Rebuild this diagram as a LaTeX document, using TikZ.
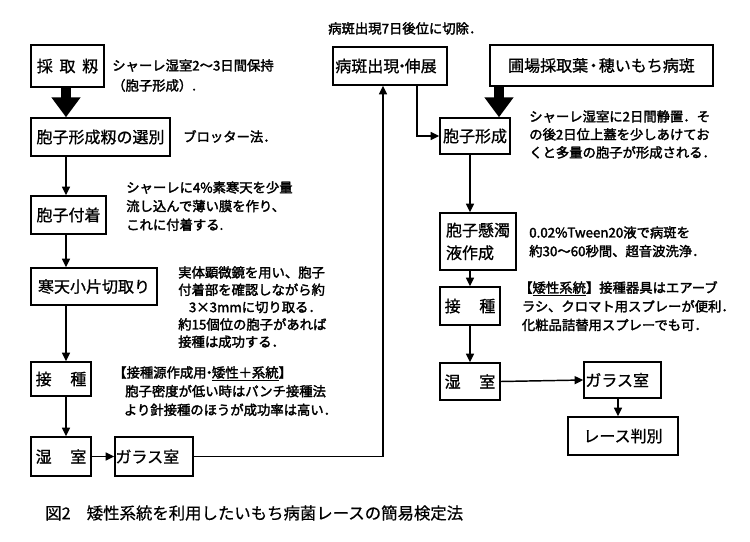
\documentclass[tikz,border=0pt]{standalone}
\usepackage{fontspec}
\usetikzlibrary{arrows.meta}
\newfontfamily\jp[FakeBold=0.9]{Noto Sans CJK JP}
\newfontfamily\jpb[FakeBold=2.2]{Noto Sans CJK JP}
\newfontfamily\jpc[FakeBold=0.5]{Noto Sans CJK JP}
\begin{document}
\begin{tikzpicture}[x=0.75pt,y=-0.75pt,
  bx/.style={draw, line width=1.1pt, inner sep=0pt, align=left,
    font=\jp\fontsize{12pt}{17pt}\selectfont},
  sz/.style 2 args={minimum width=#1*0.75pt, minimum height=#2*0.75pt},
  note/.style={inner sep=0pt, anchor=north west, align=left,
    font=\jpb\fontsize{10pt}{13pt}\selectfont},
  con/.style={line width=1.1pt},
  arr/.style={line width=1.1pt, -{Triangle[length=6.5pt,width=6pt]}},
  bigarrow/.style={line width=7.5pt, -{Triangle[length=15pt,width=21pt]}}]
\useasboundingbox (0,0) rectangle (750,542);
\fill[white] (0,0) rectangle (750,542);
% left column
\node[bx, sz={73}{42}] (A) at (67.5,66) {採\hspace{5pt}取\hspace{5pt}籾};
\node[bx, sz={139}{38}] (B) at (100.5,137) {胞子形成籾の選別};
\node[bx, sz={75}{38}] (C) at (68.5,215) {胞子付着};
\node[bx, sz={126}{37}] (D) at (94,286.5) {寒天小片切取り};
\node[bx, sz={60}{34}] (E) at (61,379) {接\hspace{14pt}種};
\node[bx, sz={60}{39}] (F) at (61,456.5) {湿\hspace{14pt}室};
\node[bx, sz={78}{39}] (G) at (154,456.5) {ガラス室\hspace{10pt}};
% right column
\node[bx, sz={114}{38}] (H) at (390,66) {病斑出現\hspace{-4pt}・\hspace{-4pt}伸展\hspace{6pt}};
\node[bx, sz={223}{41}] (I) at (601.5,65.5) {圃場採取葉\hspace{-2pt}・\hspace{-2pt}穂いもち病斑};
\node[bx, sz={70}{36}] (J) at (475,136) {胞子形成};
\node[bx, sz={76}{57}] (K) at (478,241.5) {胞子懸濁\\液作成};
\node[bx, sz={60}{38}] (L) at (470,306) {接\hspace{14pt}種};
\node[bx, sz={60}{37}] (M) at (470,381.5) {湿\hspace{14pt}室};
\node[bx, sz={77}{36}] (N) at (622.5,380) {ガラス室\hspace{8pt}};
\node[bx, sz={110}{38}] (O) at (623,436) {レース判別};
% column coordinates
\coordinate (lc) at (66,0);
\coordinate (rc) at (470,0);
\coordinate (up) at (383,456.5);
\coordinate (dn) at (417,136);
% connectors
\draw[bigarrow] (A.south -| lc) -- (B.north -| lc);
\draw[arr] (B.south -| lc) -- (C.north -| lc);
\draw[arr] (C.south -| lc) -- (D.north -| lc);
\draw[arr] (D.south -| lc) -- (E.north -| lc);
\draw[arr] (E.south -| lc) -- (F.north -| lc);
\draw[arr] (F.east) -- (G.west);
\draw[arr] (G.east) -- (up) -- (up |- H.south);
\draw[arr] (dn |- H.south) |- (J.west);
\coordinate (ic) at (499,0);
\draw[bigarrow] (I.south -| ic) -- (J.north -| ic);
\draw[arr] (J.south -| rc) -- (K.north -| rc);
\draw[arr] (K.south -| rc) -- (L.north -| rc);
\draw[arr] (L.south -| rc) -- (M.north -| rc);
\draw[arr] (M.east) -- (N.west);
\coordinate (oc) at (618,0);
\draw[arr] (N.south -| oc) -- (O.north -| oc);
% notes
\node[note, font=\jpb\fontsize{10pt}{15pt}\selectfont] (n1) at (112,59) {シャーレ湿室2～3日間保持\\（胞子形成）.};
\node[note] (n2) at (183,130) {ブロッター法．};
\node[note, font=\jpb\fontsize{10pt}{14pt}\selectfont] (n3) at (126,181) {シャーレに4\%素寒天を少量\\流し込んで薄い膜を作り、\\これに付着する.};
\node[note] (n4) at (178,266) {実体顕微鏡を用い、胞子\\付着部を確認しながら約\\\hspace{8pt}3×3mmに切り取る．\\約15個位の胞子があれば\\接種は成功する．};
\node[note, font=\jpb\fontsize{10pt}{14pt}\selectfont] (n5) at (113,366) {【接種源作成用\hspace{-3pt}・\hspace{-3pt}\underline{矮性＋系統}】\\\hspace{9pt}胞子密度が低い時はパンチ接種法\\\hspace{8pt}より針接種のほうが成功率は高い．};
\node[note] (n6) at (328,22) {病斑出現7日後位に切除．};
\node[note, font=\jpb\fontsize{10pt}{13.5pt}\selectfont] (n7) at (529,110) {シャーレ湿室に2日間静置．そ\\の後2日位上蓋を少しあけてお\\くと多量の胞子が形成される．};
\node[note, font=\jpb\fontsize{10pt}{14pt}\selectfont] (n8) at (529,226) {0.02\%Tween20液で病斑を\\約30～60秒間、超音波洗浄．};
\node[note, font=\jpb\fontsize{10pt}{14pt}\selectfont] (n9) at (519,281) {【\underline{矮性系統}】接種器具はエアーブ\\\hspace{2pt}ラシ、クロマト用スプレーが便利．\\\hspace{2pt}化粧品詰替用スプレーでも可．};
% caption
\node[inner sep=0pt, anchor=west, font=\jpc\fontsize{12.3pt}{15pt}\selectfont] (cap) at (45,513) {図2\hspace{12pt}矮性系統を利用したいもち病菌レースの簡易検定法};
\end{tikzpicture}
\end{document}
